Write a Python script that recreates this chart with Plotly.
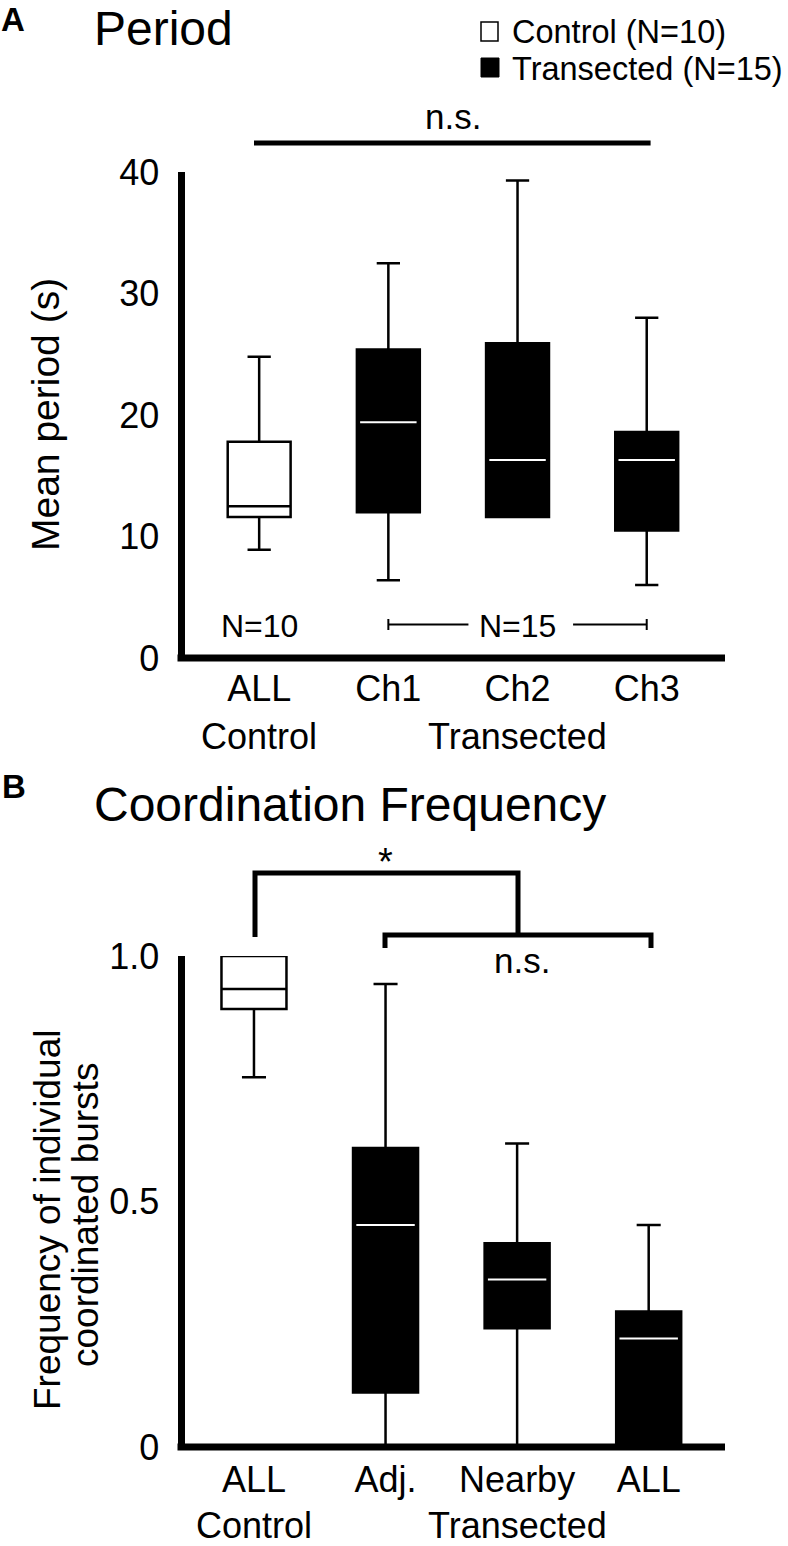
import plotly.graph_objects as go

W, H = 788, 1546
FONT = "Liberation Sans, Arial, sans-serif"

# ---------------- data ----------------
# Panel A: mean period (s)
a_labels = ["ALL", "Ch1", "Ch2", "Ch3"]
a_groups = ["Control", "Transected", "Transected", "Transected"]
a_low = [8.9, 6.4, 11.6, 6.0]
a_q1 = [11.6, 12.0, 11.6, 10.5]
a_median = [12.5, 19.4, 16.3, 16.3]
a_q3 = [17.8, 25.4, 25.9, 18.6]
a_high = [24.8, 32.5, 39.3, 28.0]
a_yticks = [0, 10, 20, 30, 40]

# Panel B: frequency of individual coordinated bursts
b_labels = ["ALL", "Adj.", "Nearby", "ALL"]
b_groups = ["Control", "Transected", "Transected", "Transected"]
b_low = [0.753, 0.0, 0.0, 0.0]
b_q1 = [0.892, 0.111, 0.242, 0.0]
b_median = [0.933, 0.452, 0.341, 0.221]
b_q3 = [1.0, 0.609, 0.415, 0.276]
b_high = [1.0, 0.943, 0.618, 0.452]
b_yticks = [0, 0.5, 1.0]
b_yticktext = ["0", "0.5", "1.0"]


def px(p):
    return p / W


def py(p):
    return 1 - p / H


fig = go.Figure()


def add_panel(xa, ya, labels, groups, low, q1, med, q3, high, width):
    for grp, fill in (("Control", "white"), ("Transected", "black")):
        idx = [i for i, g in enumerate(groups) if g == grp]
        fig.add_trace(go.Box(
            x=idx,
            lowerfence=[low[i] for i in idx],
            q1=[q1[i] for i in idx],
            median=[med[i] for i in idx],
            q3=[q3[i] for i in idx],
            upperfence=[high[i] for i in idx],
            width=width,
            whiskerwidth=0.37,
            fillcolor=fill,
            line=dict(color="black", width=2.5),
            boxpoints=False,
            hoverinfo="skip",
            showlegend=False,
            xaxis=xa, yaxis=ya,
        ))
        if grp == "Transected":
            xs, ys = [], []
            inset = width / 2 - 0.025
            for i in idx:
                xs += [i - inset, i + inset, None]
                ys += [med[i], med[i], None]
            fig.add_trace(go.Scatter(
                x=xs, y=ys, mode="lines",
                line=dict(color="white", width=2),
                hoverinfo="skip", showlegend=False,
                xaxis=xa, yaxis=ya,
            ))


add_panel("x", "y", a_labels, a_groups, a_low, a_q1, a_median, a_q3, a_high, 0.487)
add_panel("x2", "y2", b_labels, b_groups, b_low, b_q1, b_median, b_q3, b_high, 0.494)

axis_common = dict(
    showgrid=False, zeroline=False, linecolor="black",
    linewidth=7, ticks="", tickfont=dict(family=FONT, size=36, color="black"),
    fixedrange=True, automargin=False,
)

A_TOP, A_BOT = 172, 658
B_TOP, B_BOT = 956, 1447
X_LEFT, X_RIGHT = 184.5, 725

x_dom = [px(X_LEFT), px(X_RIGHT)]
fig.update_layout(
    template="none",
    width=W, height=H, autosize=False,
    margin=dict(l=0, r=0, t=0, b=0, pad=0),
    paper_bgcolor="white", plot_bgcolor="white",
    font=dict(family=FONT, color="black"),
    showlegend=False,
    xaxis=dict(domain=x_dom, range=[-0.578, 3.606], anchor="y", showline=False,
               tickvals=list(range(len(a_labels))), ticktext=a_labels,
               ticklabelstandoff=6, **axis_common),
    yaxis=dict(domain=[py(A_BOT), py(A_TOP)], range=[0, 40], anchor="x", showline=True,
               tickvals=a_yticks, ticklabelstandoff=11, **axis_common),
    xaxis2=dict(domain=x_dom, range=[-0.528, 3.580], anchor="y2", showline=False,
                tickvals=list(range(len(b_labels))), ticktext=b_labels,
                ticklabelstandoff=8, **axis_common),
    yaxis2=dict(domain=[py(B_BOT), py(B_TOP)], range=[0, 1.0], anchor="x2", showline=True,
                tickvals=b_yticks, ticktext=b_yticktext, ticklabelstandoff=11,
                **axis_common),
)

annotations = []


def ann(text, x, y, size, xanchor="center", bold=False, angle=0, xref="paper"):
    t = f"<b>{text}</b>" if bold else text
    annotations.append(dict(
        text=t, x=x if xref != "paper" else px(x), y=py(y), xref=xref, yref="paper",
        xanchor=xanchor, yanchor="middle", showarrow=False, textangle=angle,
        borderpad=0, borderwidth=0,
        font=dict(family=FONT, size=size, color="black"),
    ))


# Panel letters and titles
ann("A", 13, 20, 33, bold=True)
ann("Period", 94, 28, 48, xanchor="left")
ann("B", 14, 786, 33, bold=True)
ann("Coordination Frequency", 94, 804, 48, xanchor="left")

# Legend text
ann("Control (N=10)", 512, 32, 32.5, xanchor="left")
ann("Transected (N=15)", 512, 69, 32.5, xanchor="left")

# Axis titles
ann("Mean period (s)", 45, 415, 39, angle=-90)
ann("Frequency of individual", 47, 1220, 37, angle=-90)
ann("coordinated bursts", 85, 1215, 37, angle=-90)

# Group labels under x ticks
ann("Control", 0, 736, 36, xref="x")
ann("Transected", 2, 736, 36, xref="x")
ann("Control", 0, 1525, 36, xref="x2")
ann("Transected", 2, 1525, 36, xref="x2")

# Significance labels
ann("n.s.", 453, 116, 35)
ann("N=10", 0, 626, 32, xref="x")
ann("N=15", 2, 626, 32, xref="x")
ann("*", 1, 862, 38, xref="x2")
ann("n.s.", 522, 961, 35)

shapes = []
# Baselines (x-axis lines), drawn over the boxes so whisker caps at 0 are hidden
for yb in (A_BOT, B_BOT):
    shapes.append(dict(type="line", xref="paper", yref="paper", layer="above",
                       x0=px(X_LEFT - 7), x1=px(X_RIGHT), y0=py(yb), y1=py(yb),
                       line=dict(color="black", width=7)))
# Legend squares
shapes.append(dict(type="rect", xref="paper", yref="paper",
                   x0=px(481), x1=px(498), y0=py(22), y1=py(41),
                   line=dict(color="black", width=1.5), fillcolor="white"))
shapes.append(dict(type="rect", xref="paper", yref="paper",
                   x0=px(481), x1=px(499), y0=py(58), y1=py(77),
                   line=dict(color="black", width=1), fillcolor="black"))
# Panel A n.s. line
shapes.append(dict(type="line", xref="x", yref="paper", x0=-0.04, x1=3.03,
                   y0=py(143), y1=py(143), line=dict(color="black", width=5)))
# Panel A N=15 bracket
for xa0, xa1 in ((1, 1.62), (2.43, 3)):
    shapes.append(dict(type="line", xref="x", yref="paper", x0=xa0, x1=xa1,
                       y0=py(624.5), y1=py(624.5), line=dict(color="black", width=2)))
for xe in (1, 3):
    shapes.append(dict(type="line", xref="x", yref="paper", x0=xe, x1=xe,
                       y0=py(619), y1=py(630), line=dict(color="black", width=2)))
# Panel B brackets
shapes.append(dict(type="path", xref="paper", yref="paper",
                   path=f"M {px(255)},{py(937)} L {px(255)},{py(873)} L {px(518)},{py(873)} L {px(518)},{py(935)}",
                   line=dict(color="black", width=5)))
shapes.append(dict(type="path", xref="paper", yref="paper",
                   path=f"M {px(385)},{py(948)} L {px(385)},{py(935)} L {px(651)},{py(935)} L {px(651)},{py(948)}",
                   line=dict(color="black", width=5)))

fig.update_layout(annotations=annotations, shapes=shapes)

fig.write_html("out.html", config={"displayModeBar": False},
               post_script="document.body.style.margin='0';")
